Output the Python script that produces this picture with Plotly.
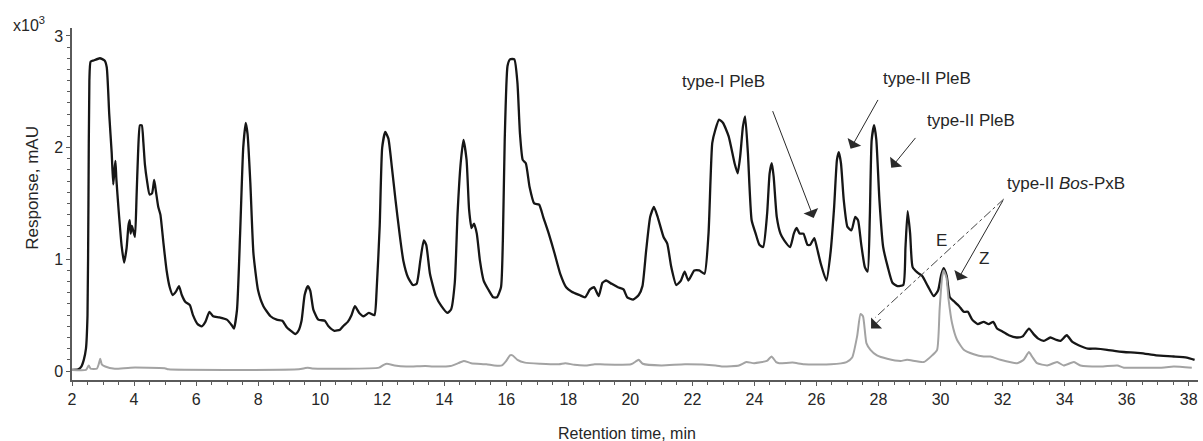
import plotly.graph_objects as go

# ---- data (retention time in min, response in x10^3 mAU) ----
black_t = [2.0, 2.2, 2.3, 2.38, 2.45, 2.5, 2.53, 2.56, 2.6, 2.7, 2.9, 3.05, 3.12, 3.2, 3.28, 3.33, 3.37, 3.40, 3.43,
           3.5, 3.6, 3.68, 3.76, 3.82, 3.86, 3.89, 3.93, 3.97, 4.03, 4.08, 4.13, 4.19, 4.25, 4.30, 4.35, 4.42, 4.50,
           4.58, 4.65, 4.71, 4.78, 4.85, 4.95, 5.05, 5.15, 5.25, 5.35, 5.45, 5.54, 5.65, 5.8, 5.9, 6.05, 6.18, 6.3,
           6.43, 6.55, 6.75, 6.99, 7.15, 7.22, 7.32, 7.42, 7.52, 7.60, 7.66, 7.75, 7.85, 8.0, 8.17, 8.4, 8.6, 8.78,
           8.93, 9.1, 9.2, 9.3, 9.4, 9.5, 9.6, 9.68, 9.78, 9.94, 10.15, 10.27, 10.46, 10.64, 10.77, 10.89, 11.01,
           11.12, 11.26, 11.4, 11.57, 11.75, 11.82, 11.92, 12.0, 12.1, 12.2, 12.31, 12.43, 12.56, 12.68, 12.83,
           12.99, 13.11, 13.23, 13.34, 13.42, 13.54, 13.73, 13.91, 14.1, 14.22, 14.34, 14.43, 14.53, 14.62, 14.72,
           14.8, 14.88, 14.96, 15.05, 15.15, 15.27, 15.42, 15.58, 15.7, 15.83, 15.89, 15.95, 16.04, 16.12, 16.26,
           16.36, 16.44, 16.53, 16.63, 16.75, 16.9, 17.06, 17.19, 17.37, 17.56, 17.74, 17.93, 18.11, 18.36, 18.54,
           18.7, 18.83, 18.98, 19.1, 19.22, 19.4, 19.6, 19.78, 19.9, 20.09, 20.27, 20.39, 20.51, 20.64, 20.76,
           20.88, 21.07, 21.19, 21.32, 21.48, 21.63, 21.75, 21.87, 22.06, 22.22, 22.39, 22.52, 22.64, 22.74, 22.86,
           22.99, 23.17, 23.36, 23.46, 23.54, 23.63, 23.70, 23.79, 23.91, 24.04, 24.16, 24.28, 24.41, 24.49, 24.56,
           24.62, 24.72, 24.84, 24.96, 25.15, 25.27, 25.36, 25.46, 25.58, 25.71, 25.8, 25.93, 26.01, 26.14, 26.32,
           26.45, 26.57, 26.66, 26.72, 26.79, 26.88, 27.0, 27.13, 27.25, 27.34, 27.44, 27.56, 27.65, 27.72, 27.78,
           27.86, 27.93, 28.03, 28.15, 28.3, 28.45, 28.61, 28.8, 28.87, 28.94, 29.02, 29.1, 29.26, 29.41, 29.59,
           29.78, 29.92, 30.02, 30.1, 30.2, 30.3, 30.45, 30.6, 30.75, 30.88, 31.02, 31.2, 31.39, 31.55, 31.7,
           31.82, 31.95, 32.2, 32.45, 32.65, 32.85, 33.0, 33.15, 33.33, 33.54, 33.72, 33.87, 34.07, 34.25, 34.45,
           34.75, 35.0, 35.37, 35.6, 35.91, 36.45, 36.95, 37.52, 37.94, 38.19]
black_v = [0.01, 0.015, 0.04, 0.10, 0.2, 0.5, 1.5, 2.6, 2.77, 2.78, 2.80, 2.78, 2.72, 2.3, 1.95, 1.67, 1.80, 1.88, 1.72,
           1.45, 1.12, 0.97, 1.10, 1.30, 1.35, 1.23, 1.30, 1.26, 1.20, 1.55, 1.95, 2.20, 2.20, 2.05, 1.85, 1.70, 1.58,
           1.59, 1.71, 1.60, 1.47, 1.40, 1.14, 0.90, 0.75, 0.68, 0.71, 0.76, 0.68, 0.62, 0.59, 0.50, 0.42, 0.40, 0.44,
           0.53, 0.49, 0.48, 0.46, 0.41, 0.38, 0.55, 1.23, 2.00, 2.22, 2.12, 1.68, 1.05, 0.72, 0.58, 0.49, 0.46, 0.45,
           0.39, 0.35, 0.33, 0.36, 0.45, 0.68, 0.76, 0.72, 0.55, 0.46, 0.45, 0.40, 0.36, 0.37, 0.41, 0.44, 0.50,
           0.58, 0.52, 0.49, 0.52, 0.50, 0.72, 1.30, 2.00, 2.14, 2.08, 1.83, 1.53, 1.23, 0.99, 0.84,
           0.77, 0.78, 0.99, 1.17, 1.13, 0.87, 0.67, 0.58, 0.52, 0.55, 0.79, 1.41, 1.86, 2.07, 1.89,
           1.45, 1.28, 1.32, 1.23, 0.99, 0.81, 0.73, 0.66, 0.66, 0.75, 1.17, 2.07, 2.73, 2.79, 2.79,
           2.58, 2.13, 1.89, 1.86, 1.65, 1.50, 1.49, 1.38, 1.23, 1.05, 0.87, 0.75, 0.71, 0.68, 0.66,
           0.73, 0.75, 0.67, 0.79, 0.81, 0.78, 0.75, 0.73, 0.66, 0.64, 0.68, 0.76, 1.08, 1.38, 1.47,
           1.38, 1.20, 1.14, 0.93, 0.77, 0.81, 0.89, 0.81, 0.90, 0.90, 0.87, 1.23, 2.04, 2.16, 2.25,
           2.22, 2.10, 1.86, 1.77, 1.92, 2.19, 2.28, 1.95, 1.35, 1.23, 1.13, 1.11, 1.41, 1.77, 1.86,
           1.74, 1.38, 1.23, 1.17, 1.11, 1.23, 1.28, 1.23, 1.23, 1.13, 1.13, 1.19, 1.11, 0.96, 0.81,
           1.05, 1.47, 1.89, 1.96, 1.86, 1.53, 1.29, 1.26, 1.38, 1.35, 1.14, 0.93, 0.89, 1.38, 2.07,
           2.20, 2.07, 1.53, 1.11, 0.93, 0.79, 0.76, 0.77, 1.11, 1.43, 1.23, 0.93, 0.88, 0.85, 0.76,
           0.67, 0.72, 0.86, 0.92, 0.85, 0.66, 0.62, 0.58, 0.53, 0.53, 0.46, 0.42, 0.44, 0.42, 0.44,
           0.38, 0.36, 0.32, 0.30, 0.31, 0.38, 0.33, 0.29, 0.27, 0.30, 0.28, 0.27, 0.32, 0.26, 0.23,
           0.20, 0.20, 0.19, 0.18, 0.17, 0.16, 0.14, 0.13, 0.12, 0.10]

gray_t = [2.0, 2.45, 2.54, 2.6, 2.8, 2.86, 2.91, 2.96, 3.07, 3.38, 3.88, 4.99, 5.11, 9.31, 9.5, 9.6, 9.74, 11.9, 12.05,
          12.15, 12.4, 12.77, 13.39, 13.64, 14.2, 14.45, 14.63, 14.87, 15.36, 15.61, 15.86, 16.0, 16.12, 16.2, 16.36,
          16.6, 17.1, 17.7, 17.9, 18.2, 18.6, 18.85, 19.03, 20.02, 20.2, 20.27, 20.4, 21.0, 21.76, 22.75, 23.0, 23.5,
          23.74, 23.99, 24.4, 24.55, 24.7, 24.8, 25.23, 25.6, 26.47, 26.97, 27.15, 27.31, 27.42, 27.5, 27.61, 27.74,
          27.95, 28.28, 28.71, 28.92, 29.46, 29.73, 29.89, 29.97, 30.05, 30.1, 30.19, 30.26, 30.37, 30.53, 30.75,
          31.07, 31.39, 31.61, 31.93, 32.47, 32.68, 32.85, 32.95, 33.11, 33.44, 33.76, 33.97, 34.3, 34.51, 35.16,
          35.7, 35.91, 36.45, 37.09, 37.52, 38.1]
gray_v = [0.01, 0.01, 0.05, 0.02, 0.02, 0.06, 0.11, 0.06, 0.04, 0.02, 0.03, 0.025, 0.015, 0.015, 0.025, 0.03, 0.022,
          0.03, 0.055, 0.065, 0.05, 0.04, 0.045, 0.04, 0.045, 0.07, 0.09, 0.07, 0.06, 0.05, 0.05, 0.09, 0.14, 0.14,
          0.10, 0.075, 0.065, 0.06, 0.07, 0.055, 0.05, 0.06, 0.06, 0.06, 0.09, 0.10, 0.065, 0.05, 0.06, 0.05, 0.04,
          0.05, 0.08, 0.07, 0.09, 0.13, 0.08, 0.07, 0.075, 0.06, 0.06, 0.08, 0.12, 0.31, 0.51, 0.49, 0.25, 0.19,
          0.14, 0.11, 0.09, 0.10, 0.08, 0.14, 0.19, 0.55, 0.84, 0.90, 0.84, 0.64, 0.43, 0.28, 0.19,
          0.15, 0.13, 0.13, 0.10, 0.07, 0.10, 0.17, 0.13, 0.07, 0.05, 0.08, 0.05, 0.08, 0.05, 0.04,
          0.05, 0.03, 0.03, 0.03, 0.04, 0.03]

x_ticks = [2, 4, 6, 8, 10, 12, 14, 16, 18, 20, 22, 24, 26, 28, 30, 32, 34, 36, 38]
y_ticks = [0, 1, 2, 3]

labels = ["type-I PleB", "type-II PleB", "type-II PleB", "type-II <i>Bos</i>-PxB", "E", "Z"]

FONT = "Liberation Sans, Arial, sans-serif"
AX = "#5a5a5a"
TXT = "#262626"

fig = go.Figure()
fig.add_trace(go.Scatter(x=black_t, y=black_v, mode="lines",
                         line=dict(color="#161616", width=2.3, shape="spline", smoothing=0.5),
                         showlegend=False))
fig.add_trace(go.Scatter(x=gray_t, y=gray_v, mode="lines",
                         line=dict(color="#a3a3a3", width=2, shape="spline", smoothing=0.5),
                         showlegend=False))

# text labels
txt_pos = [(22.99, 2.59), (29.56, 2.62), (30.98, 2.24), (34.03, 1.68), (30.04, 1.17), (31.40, 1.01)]
for lab, (tx, ty) in zip(labels, txt_pos):
    fig.add_annotation(x=tx, y=ty, xref="x", yref="y", text=lab, showarrow=False,
                       font=dict(family=FONT, size=17, color=TXT), xanchor="center", yanchor="middle")

# solid arrows (tip, tail) in data coordinates
arrows = [((25.91, 1.37), (24.57, 2.34)),
          ((27.10, 1.99), (28.01, 2.44)),
          ((28.41, 1.82), (29.23, 2.10)),
          ((30.54, 0.81), (32.04, 1.54))]
for (hx, hy), (tx, ty) in arrows:
    fig.add_annotation(x=hx, y=hy, ax=tx, ay=ty, xref="x", yref="y", axref="x", ayref="y",
                       text="", showarrow=True, arrowhead=1, arrowsize=2.6, arrowwidth=1,
                       arrowcolor="#2a2a2a")

# dash-dot arrow (E isomer)
fig.add_shape(type="line", x0=32.04, y0=1.54, x1=27.9, y1=0.48, xref="x", yref="y",
              line=dict(color="#444444", width=1, dash="dashdot"))
fig.add_annotation(x=27.76, y=0.38, ax=11, ay=-11, xref="x", yref="y",
                   text="", showarrow=True, arrowhead=1, arrowsize=2.6, arrowwidth=1,
                   arrowcolor="#2a2a2a")

# axis titles / multiplier
fig.add_annotation(xref="paper", yref="paper", x=0, y=1, xshift=-43, yshift=4, text="x10<sup>3</sup>",
                   showarrow=False, font=dict(family=FONT, size=16, color=TXT),
                   xanchor="center", yanchor="middle")
fig.add_annotation(xref="paper", yref="y", x=0, y=1.64, xshift=-39, text="Response, mAU",
                   textangle=-90, showarrow=False, font=dict(family=FONT, size=17, color=TXT),
                   xanchor="center", yanchor="middle")
fig.add_annotation(xref="paper", yref="paper", x=0.493, y=0, yshift=-53, text="Retention time, min",
                   showarrow=False, font=dict(family=FONT, size=16, color=TXT),
                   xanchor="center", yanchor="middle")

fig.update_xaxes(range=[2, 38.30], tickvals=x_ticks, ticktext=[str(v) for v in x_ticks],
                 showline=True, linecolor=AX, linewidth=1.5, ticks="outside", ticklen=4,
                 tickcolor=AX, tickwidth=1, showgrid=False, zeroline=False,
                 tickfont=dict(family=FONT, size=16, color=TXT),
                 minor=dict(dtick=0.5, tick0=2, ticks="outside", ticklen=3, tickcolor=AX, showgrid=False))
fig.update_yaxes(range=[-0.0806, 3.0707], tickvals=y_ticks, ticktext=[str(v) for v in y_ticks],
                 showline=True, linecolor=AX, linewidth=1.5, ticks="outside", ticklen=4,
                 tickcolor=AX, tickwidth=1, showgrid=False, zeroline=False,
                 tickfont=dict(family=FONT, size=16, color=TXT),
                 minor=dict(dtick=0.1, tick0=0, ticks="outside", ticklen=3, tickcolor=AX, showgrid=False))

fig.update_layout(width=1203, height=441, margin=dict(l=72, r=5, t=28, b=61),
                  paper_bgcolor="white", plot_bgcolor="white", showlegend=False)

fig.write_html("out.html")
